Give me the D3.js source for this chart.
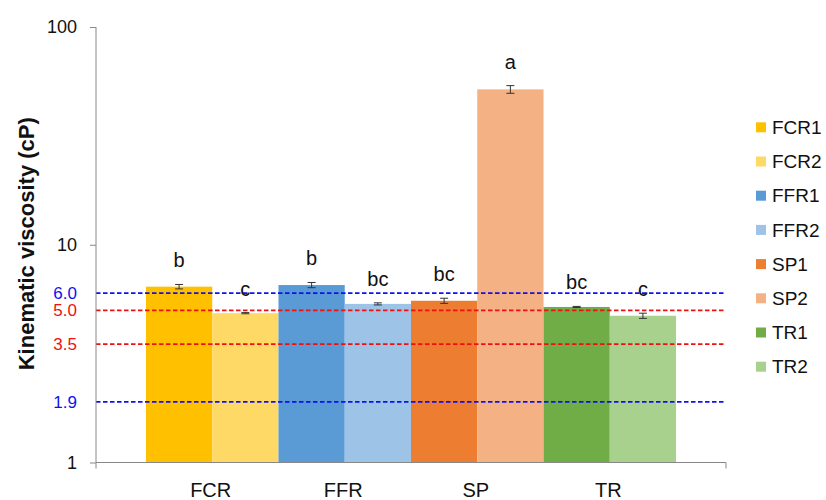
<!DOCTYPE html>
<html>
<head>
<meta charset="utf-8">
<script src="https://cdn.jsdelivr.net/npm/d3@7"></script>
<style>
    body { margin: 0; background: #fff; }
    text { font-family: "Liberation Sans", Arial, sans-serif; }
</style>
</head>
<body>
<div id="chart"></div>
<script>

// data
const groups = ["FCR", "FFR", "SP", "TR"];
const series = ["FCR1", "FCR2", "FFR1", "FFR2", "SP1", "SP2", "TR1", "TR2"];
const seriesGroup = ["FCR", "FCR", "FFR", "FFR", "SP", "SP", "TR", "TR"];
const means = [6.42, 4.85, 6.53, 5.35, 5.53, 51.7, 5.18, 4.72];
const errors = [0.15, 0.03, 0.18, 0.06, 0.15, 2.1, 0.03, 0.13];
const letters = ["b", "c", "b", "bc", "bc", "a", "bc", "c"];
const yTicks = [1, 10, 100];
const refValues = [6.0, 5.0, 3.5, 1.9];
const refLabels = ["6.0", "5.0", "3.5", "1.9"];

const palette = ["#FFC000", "#FFD966", "#5B9BD5", "#9DC3E6", "#ED7D31", "#F4B183", "#70AD47", "#A9D18E"];
const refPalette = ["#1010F0", "#F01010", "#F01010", "#1010F0"];


class BarVis {

    constructor(parentElement){
        this.parentElement = parentElement;
        this.initVis();
    }

    initVis(){
        let vis = this;

        vis.margin = {top: 27, right: 100, bottom: 37.5, left: 96};
        vis.width = 826 - vis.margin.left - vis.margin.right;
        vis.height = 500 - vis.margin.top - vis.margin.bottom;

        vis.svg = d3.select("#" + vis.parentElement).append("svg")
            .attr("width", 826)
            .attr("height", 500)
            .append("g")
            .attr("transform", `translate(${vis.margin.left}, ${vis.margin.top})`);

        // scales
        vis.x = d3.scaleBand()
            .domain(groups)
            .range([0, vis.width])
            .paddingInner(0)
            .paddingOuter(0.377);

        vis.xSub = d3.scaleBand()
            .domain([0, 1])
            .range([0, vis.x.bandwidth()]);

        vis.y = d3.scaleLog()
            .domain([1, 100])
            .range([vis.height, 0]);

        vis.data = series.map((s, i) => ({
            name: s,
            group: seriesGroup[i],
            sub: i % 2,
            mean: means[i],
            err: errors[i],
            letter: letters[i],
            color: palette[i]
        }));

        vis.updateVis();
    }

    updateVis(){
        let vis = this;

        // bars
        vis.svg.selectAll(".bar")
            .data(vis.data)
            .join("rect")
            .attr("class", "bar")
            .attr("x", d => vis.x(d.group) + vis.xSub(d.sub))
            .attr("width", vis.xSub.bandwidth())
            .attr("y", d => vis.y(d.mean))
            .attr("height", d => vis.height - vis.y(d.mean))
            .attr("fill", d => d.color);

        // error bars
        let eb = vis.svg.selectAll(".errbar")
            .data(vis.data)
            .join("g")
            .attr("class", "errbar")
            .attr("transform", d => `translate(${vis.x(d.group) + vis.xSub(d.sub) + vis.xSub.bandwidth() / 2}, 0)`)
            .attr("stroke", "#333")
            .attr("stroke-width", 1);

        eb.append("line")
            .attr("y1", d => vis.y(d.mean + d.err))
            .attr("y2", d => vis.y(d.mean - d.err));
        eb.append("line")
            .attr("x1", -4).attr("x2", 4)
            .attr("y1", d => vis.y(d.mean + d.err))
            .attr("y2", d => vis.y(d.mean + d.err));
        eb.append("line")
            .attr("x1", -4).attr("x2", 4)
            .attr("y1", d => vis.y(d.mean - d.err))
            .attr("y2", d => vis.y(d.mean - d.err));

        // significance letters
        vis.svg.selectAll(".letter")
            .data(vis.data)
            .join("text")
            .attr("class", "letter")
            .attr("x", d => vis.x(d.group) + vis.xSub(d.sub) + vis.xSub.bandwidth() / 2)
            .attr("y", d => vis.y(d.mean + d.err) - 17)
            .attr("text-anchor", "middle")
            .attr("font-size", 20)
            .attr("fill", "#111")
            .text(d => d.letter);

        // reference lines (drawn over the bars)
        vis.svg.selectAll(".refline")
            .data(refValues)
            .join("line")
            .attr("class", "refline")
            .attr("x1", 0)
            .attr("x2", vis.width)
            .attr("y1", d => vis.y(d))
            .attr("y2", d => vis.y(d))
            .attr("stroke", (d, i) => refPalette[i])
            .attr("stroke-width", 1.8)
            .attr("stroke-dasharray", "4.5,2.5");

        vis.svg.selectAll(".reflabel")
            .data(refValues)
            .join("text")
            .attr("class", "reflabel")
            .attr("x", -19)
            .attr("y", d => vis.y(d))
            .attr("dy", "0.35em")
            .attr("text-anchor", "end")
            .attr("font-size", 17)
            .attr("fill", (d, i) => refPalette[i])
            .text((d, i) => refLabels[i]);

        // y axis
        vis.yAxis = d3.axisLeft(vis.y)
            .tickValues(yTicks)
            .tickFormat(d3.format("d"))
            .tickSize(6)
            .tickPadding(13);

        vis.yAxisGroup = vis.svg.append("g")
            .attr("class", "y-axis")
            .call(vis.yAxis);
        vis.yAxisGroup.select(".domain").attr("stroke", "#888").attr("d", `M0,0V${vis.height}`);
        vis.yAxisGroup.selectAll(".tick line").attr("stroke", "#888");
        vis.yAxisGroup.selectAll(".tick text")
            .attr("font-size", 18)
            .attr("font-family", "Liberation Sans, Arial, sans-serif")
            .attr("fill", "#111");

        // x axis: line with end ticks, group labels
        vis.svg.append("path")
            .attr("d", `M0,${vis.height + 6}V${vis.height}H${vis.width}V${vis.height + 6}`)
            .attr("fill", "none")
            .attr("stroke", "#888");

        vis.svg.selectAll(".xlabel")
            .data(groups)
            .join("text")
            .attr("class", "xlabel")
            .attr("x", d => vis.x(d) + vis.x.bandwidth() / 2 - 1.5)
            .attr("y", vis.height + 34)
            .attr("text-anchor", "middle")
            .attr("font-size", 20)
            .attr("fill", "#111")
            .text(d => d);

        // axis title
        vis.svg.append("text")
            .attr("transform", `translate(-62, ${vis.height / 2 - 1}) rotate(-90)`)
            .attr("text-anchor", "middle")
            .attr("font-size", 22)
            .attr("font-weight", "bold")
            .attr("fill", "#111")
            .text("Kinematic viscosity (cP)");

        // legend
        let legend = vis.svg.selectAll(".legend")
            .data(vis.data)
            .join("g")
            .attr("class", "legend")
            .attr("transform", (d, i) => `translate(${vis.width + 30}, ${100.3 + i * 34.2})`);

        legend.append("rect")
            .attr("x", 0)
            .attr("y", -5)
            .attr("width", 10)
            .attr("height", 10)
            .attr("fill", d => d.color);

        legend.append("text")
            .attr("x", 16)
            .attr("y", 0)
            .attr("dy", "0.35em")
            .attr("font-size", 19)
            .attr("fill", "#111")
            .text(d => d.name);
    }
}

new BarVis("chart");
</script>
</body>
</html>
